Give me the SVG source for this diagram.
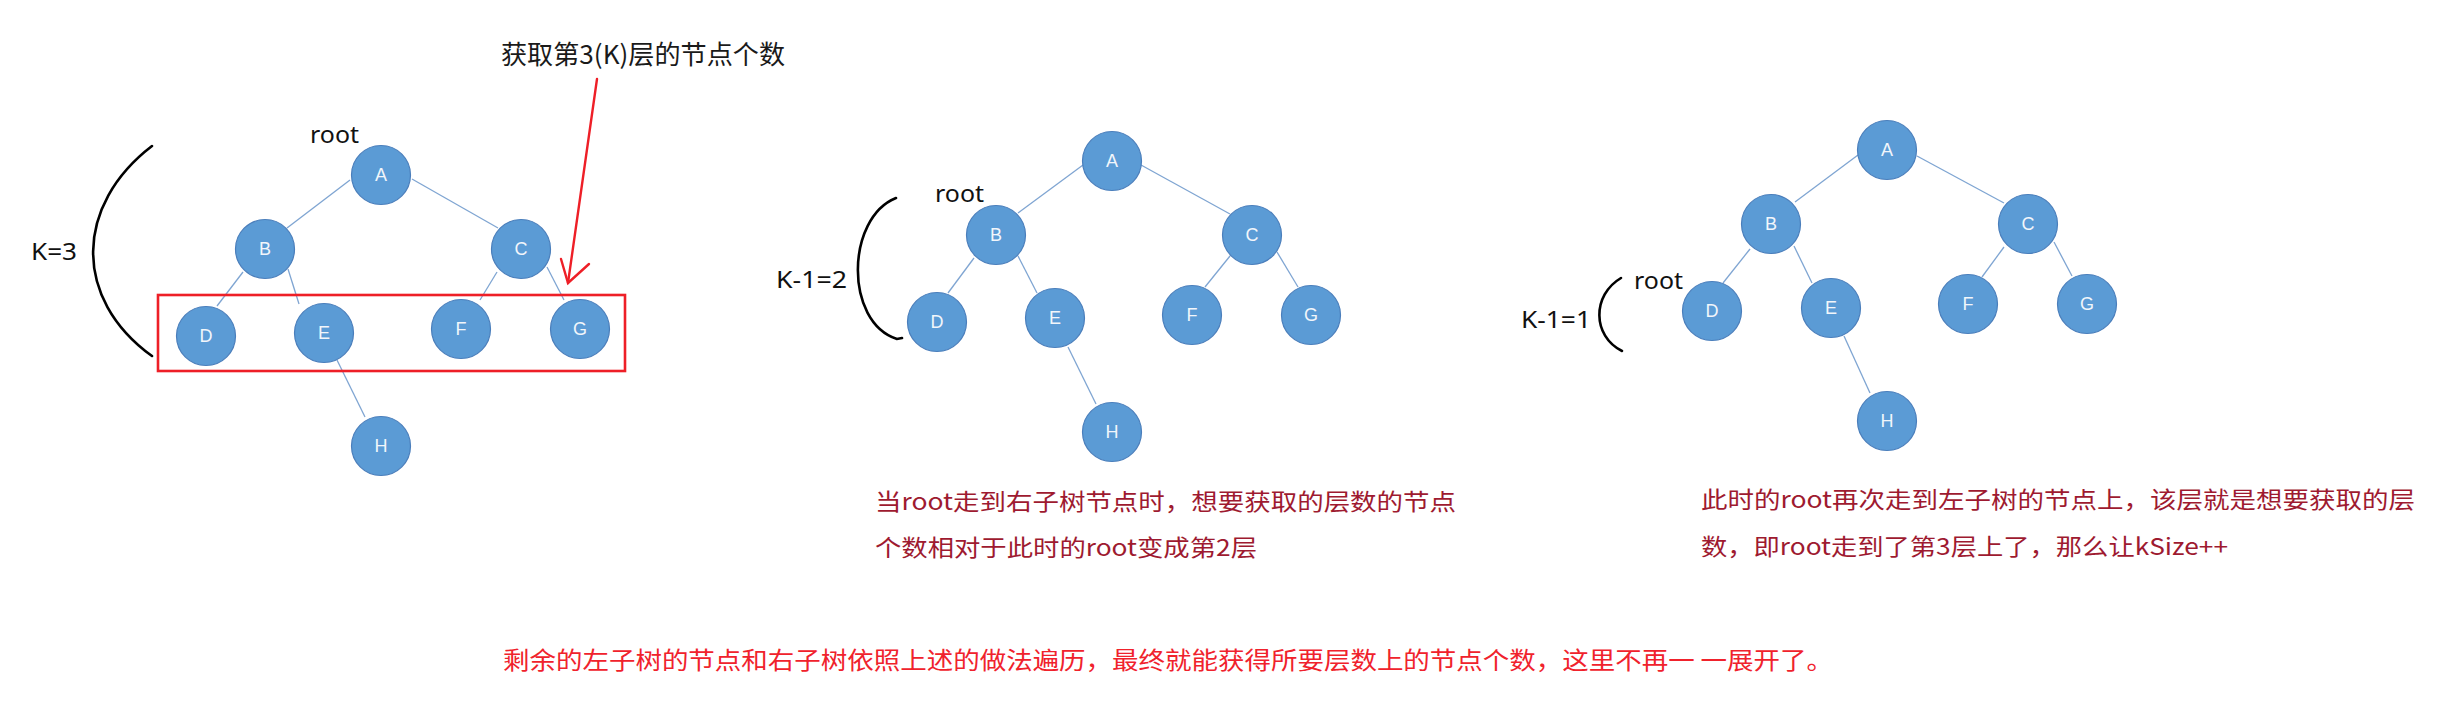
<svg xmlns="http://www.w3.org/2000/svg" width="2437" height="708" viewBox="0 0 2437 708">
<style>
.n{fill:#5b9bd5;stroke:#4a7ebb;stroke-width:1.2}
.nl{fill:#f2f6fb;font-family:"Liberation Sans","Noto Sans CJK SC",sans-serif;font-size:18px;text-anchor:middle}
.e{stroke:#7fa5d2;stroke-width:1.3;fill:none}
.lbl{fill:#111;font-family:"Noto Sans","Noto Sans CJK SC",sans-serif;font-size:23px}
.br{fill:none;stroke:#000;stroke-width:2.6;stroke-linecap:round}
.dr{fill:#9e1a30;font-family:"Noto Sans CJK SC",sans-serif;font-size:23px}
.rr{fill:#f0222c;font-family:"Noto Sans CJK SC",sans-serif;font-size:24px}
.ttl{fill:#1a1a1a;font-family:"Noto Sans CJK SC",sans-serif;font-size:26px}
</style>
<rect width="2437" height="708" fill="#fff"/>
<g id="connectors">
  <line class="e" x1="350" y1="180" x2="287" y2="228"/>
  <line class="e" x1="412" y1="179" x2="498" y2="228"/>
  <line class="e" x1="243" y1="272" x2="217" y2="306"/>
  <line class="e" x1="288" y1="269" x2="299" y2="304"/>
  <line class="e" x1="497" y1="272" x2="480" y2="300"/>
  <line class="e" x1="547" y1="267" x2="564" y2="300"/>
  <line class="e" x1="337" y1="360" x2="365" y2="417"/>
  <line class="e" x1="1083" y1="165" x2="1018" y2="213"/>
  <line class="e" x1="1141" y1="165" x2="1230" y2="214"/>
  <line class="e" x1="974" y1="258" x2="948" y2="293"/>
  <line class="e" x1="1018" y1="256" x2="1037" y2="293"/>
  <line class="e" x1="1230" y1="256" x2="1205" y2="287"/>
  <line class="e" x1="1277" y1="252" x2="1298" y2="287"/>
  <line class="e" x1="1068" y1="347" x2="1096" y2="404"/>
  <line class="e" x1="1858" y1="155" x2="1795" y2="202"/>
  <line class="e" x1="1917" y1="156" x2="2004" y2="203"/>
  <line class="e" x1="1750" y1="249" x2="1723" y2="283"/>
  <line class="e" x1="1794" y1="246" x2="1812" y2="283"/>
  <line class="e" x1="2004" y1="247" x2="1982" y2="277"/>
  <line class="e" x1="2054" y1="242" x2="2072" y2="276"/>
  <line class="e" x1="1844" y1="336" x2="1870" y2="393"/>
</g>
<g id="tree1">
  <g id="t1A"><circle class="n" cx="381" cy="175" r="29.5"/><text class="nl" x="381" y="181">A</text></g>
  <g id="t1B"><circle class="n" cx="265" cy="249" r="29.5"/><text class="nl" x="265" y="255">B</text></g>
  <g id="t1C"><circle class="n" cx="521" cy="249" r="29.5"/><text class="nl" x="521" y="255">C</text></g>
  <g id="t1D"><circle class="n" cx="206" cy="336" r="29.5"/><text class="nl" x="206" y="342">D</text></g>
  <g id="t1E"><circle class="n" cx="324" cy="333" r="29.5"/><text class="nl" x="324" y="339">E</text></g>
  <g id="t1F"><circle class="n" cx="461" cy="329" r="29.5"/><text class="nl" x="461" y="335">F</text></g>
  <g id="t1G"><circle class="n" cx="580" cy="329" r="29.5"/><text class="nl" x="580" y="335">G</text></g>
  <g id="t1H"><circle class="n" cx="381" cy="446" r="29.5"/><text class="nl" x="381" y="452">H</text></g>
</g>
<g id="tree2">
  <g id="t2A"><circle class="n" cx="1112" cy="161" r="29.5"/><text class="nl" x="1112" y="167">A</text></g>
  <g id="t2B"><circle class="n" cx="996" cy="235" r="29.5"/><text class="nl" x="996" y="241">B</text></g>
  <g id="t2C"><circle class="n" cx="1252" cy="235" r="29.5"/><text class="nl" x="1252" y="241">C</text></g>
  <g id="t2D"><circle class="n" cx="937" cy="322" r="29.5"/><text class="nl" x="937" y="328">D</text></g>
  <g id="t2E"><circle class="n" cx="1055" cy="318" r="29.5"/><text class="nl" x="1055" y="324">E</text></g>
  <g id="t2F"><circle class="n" cx="1192" cy="315" r="29.5"/><text class="nl" x="1192" y="321">F</text></g>
  <g id="t2G"><circle class="n" cx="1311" cy="315" r="29.5"/><text class="nl" x="1311" y="321">G</text></g>
  <g id="t2H"><circle class="n" cx="1112" cy="432" r="29.5"/><text class="nl" x="1112" y="438">H</text></g>
</g>
<g id="tree3">
  <g id="t3A"><circle class="n" cx="1887" cy="150" r="29.5"/><text class="nl" x="1887" y="156">A</text></g>
  <g id="t3B"><circle class="n" cx="1771" cy="224" r="29.5"/><text class="nl" x="1771" y="230">B</text></g>
  <g id="t3C"><circle class="n" cx="2028" cy="224" r="29.5"/><text class="nl" x="2028" y="230">C</text></g>
  <g id="t3D"><circle class="n" cx="1712" cy="311" r="29.5"/><text class="nl" x="1712" y="317">D</text></g>
  <g id="t3E"><circle class="n" cx="1831" cy="308" r="29.5"/><text class="nl" x="1831" y="314">E</text></g>
  <g id="t3F"><circle class="n" cx="1968" cy="304" r="29.5"/><text class="nl" x="1968" y="310">F</text></g>
  <g id="t3G"><circle class="n" cx="2087" cy="304" r="29.5"/><text class="nl" x="2087" y="310">G</text></g>
  <g id="t3H"><circle class="n" cx="1887" cy="421" r="29.5"/><text class="nl" x="1887" y="427">H</text></g>
</g>
<g id="annotations">
  <text class="lbl" x="310" y="143" textLength="49" lengthAdjust="spacingAndGlyphs">root</text>
  <text class="lbl" x="935" y="202" textLength="49" lengthAdjust="spacingAndGlyphs">root</text>
  <text class="lbl" x="1634" y="289" textLength="49" lengthAdjust="spacingAndGlyphs">root</text>
  <text class="lbl" x="31" y="260" textLength="46" lengthAdjust="spacingAndGlyphs">K=3</text>
  <text class="lbl" x="776" y="288" textLength="71" lengthAdjust="spacingAndGlyphs">K-1=2</text>
  <text class="lbl" x="1521" y="328" textLength="70" lengthAdjust="spacingAndGlyphs">K-1=1</text>
  <path class="br" d="M152,146 C75,205 72,298 152,356"/>
  <path class="br" d="M896,198 C846,218 844,322 897,339 L902,338"/>
  <path class="br" d="M1621,278 C1592,295 1592,336 1622,351"/>
  <rect x="158" y="295" width="467" height="76" fill="none" stroke="#ee1f27" stroke-width="2.6"/>
  <g id="redArrow" stroke="#ee1f27" stroke-width="2.4" fill="none" stroke-linecap="round">
    <line x1="597" y1="79" x2="568" y2="283"/>
    <polyline points="561,259 568,283 589,264"/>
  </g>
  <text class="ttl" x="501" y="64" textLength="284" lengthAdjust="spacingAndGlyphs">获取第3(K)层的节点个数</text>
  <text class="dr" x="875" y="510" textLength="581" lengthAdjust="spacingAndGlyphs">当root走到右子树节点时，想要获取的层数的节点</text>
  <text class="dr" x="875" y="556" textLength="382" lengthAdjust="spacingAndGlyphs">个数相对于此时的root变成第2层</text>
  <text class="dr" x="1701" y="508" textLength="714" lengthAdjust="spacingAndGlyphs">此时的root再次走到左子树的节点上，该层就是想要获取的层</text>
  <text class="dr" x="1701" y="555" textLength="527" lengthAdjust="spacingAndGlyphs">数，即root走到了第3层上了，那么让kSize++</text>
  <text class="rr" x="503" y="669" textLength="1330" lengthAdjust="spacingAndGlyphs">剩余的左子树的节点和右子树依照上述的做法遍历，最终就能获得所要层数上的节点个数，这里不再一 一展开了。</text>
</g>
</svg>
